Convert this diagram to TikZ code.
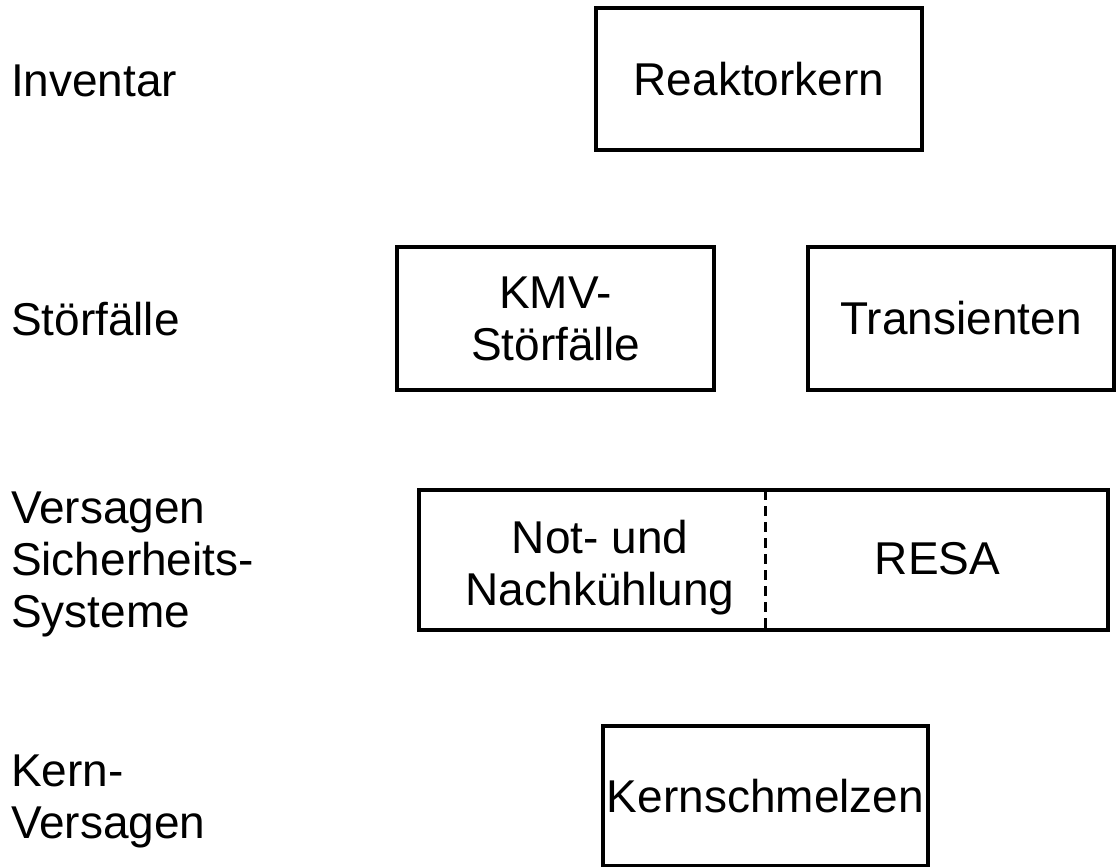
\documentclass[tikz,border=0pt]{standalone}
\usepackage{fontspec}
\setmainfont{Liberation Sans}
\begin{document}
\begin{tikzpicture}[x=1pt,y=-1pt,
  every node/.style={font=\fontsize{46}{52}\selectfont, inner sep=0pt, outer sep=0pt},
  box/.style={draw, line width=3.2pt, align=center},
  rowlabel/.style={anchor=north west, align=left},
  divider/.style={line width=3pt, dash pattern=on 10pt off 6pt}
]
\useasboundingbox (0,0) rectangle (1116,867);

% row labels on the left
\node[rowlabel] (inventar) at (11,65) {Inventar};
\node[rowlabel] (stoerfaelle) at (11,302) {Störfälle};
\node[rowlabel] (versagen) at (11,492) {Versagen\\Sicherheits-\\Systeme};
\node[rowlabel] (kernversagen) at (11,755) {Kern-\\Versagen};

% inventory
\node[box, minimum width=326pt, minimum height=142pt] (reaktor) at (759,79) {Reaktorkern};

% initiating events
\node[box, minimum width=317pt, minimum height=143pt] (kmv) at (555.5,318.5) {KMV-\\Störfälle};
\node[box, minimum width=306pt, minimum height=143pt] (trans) at (961,318.5) {Transienten};

% safety systems: one frame split by a dashed line
\node[box, minimum width=689pt, minimum height=140pt] (sys) at (763.5,560) {};
\coordinate (split) at (765,560);
\draw[divider] (split |- sys.north) -- (split |- sys.south);
\node[anchor=north, align=center] (notkuehl) at (600,520) {Not- und\\Nachkühlung};
\node (resa) at (937.5,558.5) {RESA};

% core failure
\node[box, minimum width=325pt, minimum height=140pt] (schmelz) at (765.5,796) {Kernschmelzen};
\end{tikzpicture}
\end{document}
